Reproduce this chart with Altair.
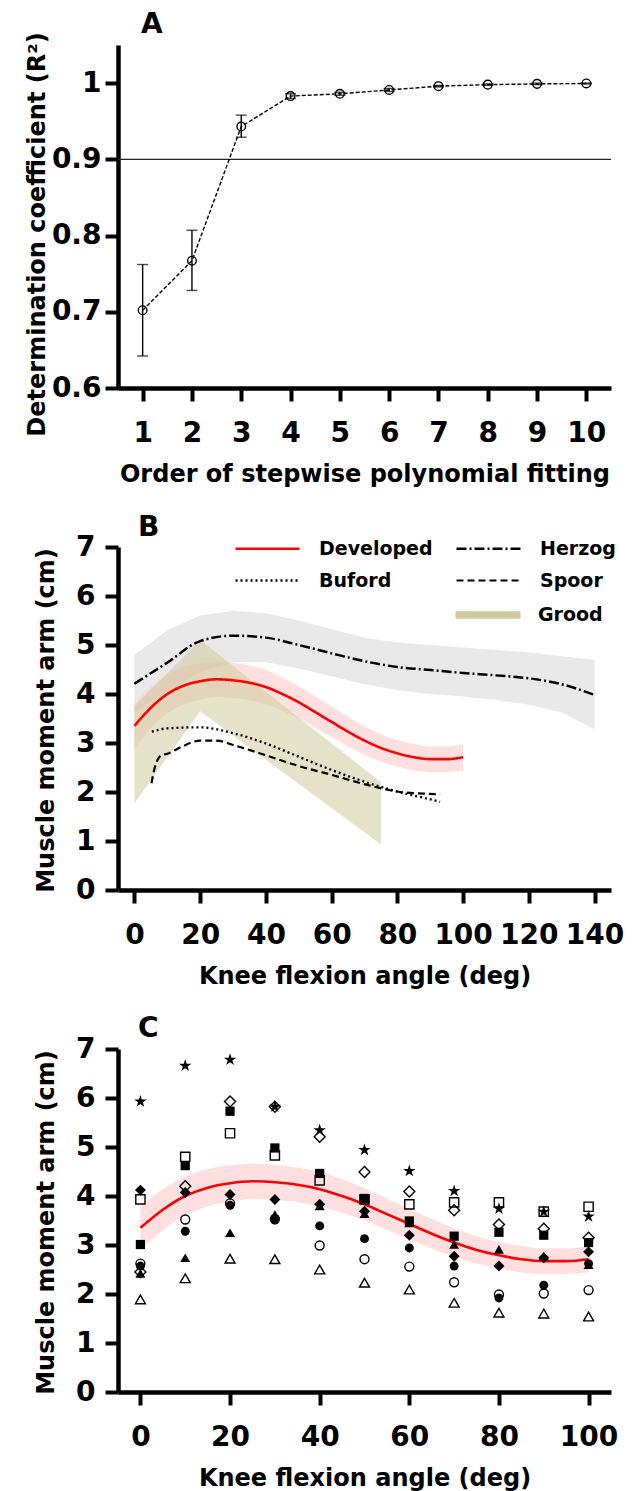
import altair as alt
import pandas as pd

FONT = "DejaVu Sans"

# ---------------- Panel A data ----------------
orders = [1, 2, 3, 4, 5, 6, 7, 8, 9, 10]
r2_mean = [0.702, 0.767, 0.943, 0.983, 0.986, 0.991, 0.996, 0.998, 0.999, 0.9995]
r2_low = [0.642, 0.728, 0.929, 0.980, 0.984, 0.989, 0.995, 0.997, 0.998, 0.999]
r2_high = [0.762, 0.807, 0.958, 0.986, 0.988, 0.993, 0.997, 0.999, 1.000, 1.000]
r2_threshold = [0.9]
a_yticks = [0.6, 0.7, 0.8, 0.9, 1.0]

# ---------------- Panel B data ----------------
dev_angle = [0, 5, 10, 15, 20, 25, 30, 35, 40, 45, 50, 55, 60, 65, 70, 75, 80, 85, 90, 95, 100]
dev_mid = [3.35, 3.72, 4.00, 4.17, 4.26, 4.30, 4.28, 4.23, 4.14, 4.00, 3.83, 3.63, 3.43, 3.23, 3.05, 2.90, 2.79, 2.71, 2.67, 2.67, 2.71]
dev_upper = [3.80, 4.14, 4.40, 4.55, 4.63, 4.66, 4.64, 4.58, 4.49, 4.34, 4.16, 3.95, 3.74, 3.53, 3.34, 3.18, 3.06, 2.98, 2.93, 2.93, 2.98]
dev_lower = [2.90, 3.30, 3.60, 3.79, 3.89, 3.94, 3.92, 3.88, 3.79, 3.66, 3.50, 3.31, 3.12, 2.93, 2.76, 2.62, 2.52, 2.44, 2.41, 2.41, 2.44]

herzog_angle = [0, 10, 20, 30, 40, 50, 60, 70, 80, 90, 100, 110, 120, 130, 140]
herzog_mid = [4.21, 4.64, 5.08, 5.19, 5.15, 5.00, 4.83, 4.67, 4.55, 4.49, 4.43, 4.38, 4.32, 4.20, 3.98]
herzog_upper = [4.80, 5.30, 5.60, 5.70, 5.65, 5.50, 5.32, 5.15, 5.05, 5.00, 4.95, 4.90, 4.85, 4.77, 4.70]
herzog_lower = [3.62, 4.05, 4.45, 4.65, 4.65, 4.52, 4.36, 4.20, 4.08, 4.00, 3.95, 3.88, 3.78, 3.62, 3.28]

buford_angle = [5.3, 10, 20, 30, 40, 50, 60, 70, 80, 90, 93]
buford_arm = [3.23, 3.30, 3.32, 3.20, 2.99, 2.72, 2.45, 2.21, 2.01, 1.85, 1.80]

spoor_angle = [5.2, 6, 7, 8.2, 10, 14.3, 20, 25, 30, 40, 50, 60, 70, 80, 90, 93]
spoor_arm = [2.18, 2.45, 2.65, 2.75, 2.78, 2.92, 3.05, 3.05, 2.96, 2.75, 2.53, 2.35, 2.16, 2.01, 1.96, 1.95]

grood_angle = [0, 20, 75]
grood_upper = [3.75, 5.10, 2.20]
grood_lower = [1.77, 3.65, 0.93]
grood_name = ["Grood"]
grood_color = ["#cdcb9b"]

series_order = ["Developed", "Herzog", "Buford", "Spoor"]
series_colors = ["#ff0000", "#000000", "#000000", "#000000"]
series_dash = [[1, 0], [10, 3, 2, 3], [2, 3], [7, 4]]
series_width = [2.6, 2.2, 2.2, 2.2]
b_xticks = [0, 20, 40, 60, 80, 100, 120, 140]
arm_ticks = [0, 1, 2, 3, 4, 5, 6, 7]

# ---------------- Panel C data ----------------
c_angle = [0, 10, 20, 30, 40, 50, 60, 70, 80, 90, 100]
subj_star = [5.93, 6.66, 6.78, 5.82, 5.34, 4.94, 4.51, 4.10, 3.74, 3.68, 3.58]
subj_open_diamond = [2.45, 4.20, 5.93, 5.82, 5.21, 4.49, 4.09, 3.71, 3.42, 3.33, 3.15]
subj_filled_square = [3.01, 4.62, 5.73, 4.98, 4.46, 3.95, 3.49, 3.18, 3.26, 3.20, 3.05]
subj_open_square = [3.93, 4.80, 5.28, 4.83, 4.32, 3.93, 3.83, 3.87, 3.87, 3.68, 3.78]
subj_filled_diamond = [4.12, 4.07, 4.03, 3.93, 3.83, 3.69, 3.20, 2.77, 2.57, 2.74, 2.86]
subj_filled_circle = [2.57, 3.28, 3.81, 3.51, 3.39, 3.13, 2.94, 2.57, 1.92, 2.18, 2.62]
subj_open_circle = [2.62, 3.52, 3.85, 3.53, 2.99, 2.71, 2.56, 2.24, 1.99, 2.01, 2.08]
subj_filled_triangle = [2.42, 2.74, 3.25, 3.62, 3.80, 3.64, 3.45, 3.01, 2.91, 2.77, 2.60]
subj_open_triangle = [1.89, 2.32, 2.72, 2.71, 2.50, 2.23, 2.09, 1.82, 1.62, 1.60, 1.54]
c_xticks = [0, 20, 40, 60, 80, 100]

STAR = "M0,-1L0.2245,-0.309L0.951,-0.309L0.363,0.118L0.588,0.809L0,0.382L-0.588,0.809L-0.363,0.118L-0.951,-0.309L-0.2245,-0.309Z"
LINE_SYM = "M-3.2,0H3.2"
SWATCH = "M-3.25,-0.375H3.25V0.375H-3.25Z"
# (values, shape, filled, size)
subject_marks = [
    (subj_star, STAR, True, 170),
    (subj_open_diamond, "diamond", False, 120),
    (subj_filled_square, "square", True, 85),
    (subj_open_square, "square", False, 85),
    (subj_filled_diamond, "diamond", True, 120),
    (subj_filled_circle, "circle", True, 80),
    (subj_open_circle, "circle", False, 80),
    (subj_filled_triangle, "triangle-up", True, 100),
    (subj_open_triangle, "triangle-up", False, 100),
]

W, H = 493, 343

# ---------------- Panel A ----------------
dfA = pd.DataFrame({"order": orders, "r2": r2_mean, "lo": r2_low, "hi": r2_high})
scAx = alt.Scale(domain=[0.5, 10.5], nice=False, zero=False)
scAy = alt.Scale(domain=[0.6, 1.05], nice=False, zero=False)
axAx = alt.Axis(values=orders, title="Order of stepwise polynomial fitting")
axAy = alt.Axis(values=a_yticks, title="Determination coefficient (R²)",
                labelExpr="datum.value == 1 ? '1' : format(datum.value, '.1f')",
                titleX=-69, titleY=189)


def ax_a(f):
    return alt.X(f, type="quantitative", scale=scAx, axis=axAx)


def ay_a(f):
    return alt.Y(f, type="quantitative", scale=scAy, axis=axAy)


baseA = alt.Chart(dfA)
a_rule = alt.Chart(pd.DataFrame({"t": r2_threshold})).mark_rule(color="#222222", strokeWidth=1.2).encode(y=ay_a("t"))
a_err = baseA.mark_rule(color="black", strokeWidth=1.4).encode(x=ax_a("order"), y=ay_a("lo"), y2="hi:Q")
a_caplo = baseA.mark_tick(color="black", orient="horizontal", size=11, thickness=1.4).encode(x=ax_a("order"), y=ay_a("lo"))
a_caphi = baseA.mark_tick(color="black", orient="horizontal", size=11, thickness=1.4).encode(x=ax_a("order"), y=ay_a("hi"))
a_line = baseA.mark_line(color="black", strokeWidth=1.4, strokeDash=[4, 2]).encode(x=ax_a("order"), y=ay_a("r2"))
a_pts = baseA.mark_point(shape="circle", size=75, color="black", strokeWidth=1.4, filled=False, opacity=1).encode(x=ax_a("order"), y=ay_a("r2"))

chartA = alt.layer(a_rule, a_line, a_err, a_caplo, a_caphi, a_pts).properties(
    width=W, height=H,
    title=alt.TitleParams(text="A", anchor="start", frame="group", dx=23, offset=-7),
)

# ---------------- Panel B ----------------
scBx = alt.Scale(domain=[-5, 145], nice=False, zero=False)
scArm = alt.Scale(domain=[0, 7], nice=False, zero=True)
axBx = alt.Axis(values=b_xticks, title="Knee flexion angle (deg)")
axArm = alt.Axis(values=arm_ticks, title="Muscle moment arm (cm)", labelPadding=10, titleX=-60, titleY=173)


def bx(f):
    return alt.X(f, type="quantitative", scale=scBx, axis=axBx)


def arm(f, ax=axArm):
    return alt.Y(f, type="quantitative", scale=scArm, axis=ax)


df_dev_band = pd.DataFrame({"angle": dev_angle, "lo": dev_lower, "hi": dev_upper})
df_her_band = pd.DataFrame({"angle": herzog_angle, "lo": herzog_lower, "hi": herzog_upper})
df_grood = pd.DataFrame({"angle": grood_angle, "lo": grood_lower, "hi": grood_upper,
                         "series": grood_name * len(grood_angle)})

lines = pd.concat([
    pd.DataFrame({"angle": herzog_angle, "arm": herzog_mid, "series": "Herzog"}),
    pd.DataFrame({"angle": buford_angle, "arm": buford_arm, "series": "Buford"}),
    pd.DataFrame({"angle": spoor_angle, "arm": spoor_arm, "series": "Spoor"}),
    pd.DataFrame({"angle": dev_angle, "arm": dev_mid, "series": "Developed"}),
], ignore_index=True)

legB = alt.Legend(title=None, orient="none", legendX=138, legendY=-10, columns=2, direction="horizontal",
                  symbolType=LINE_SYM, symbolSize=400, symbolOpacity=1, symbolFillColor="transparent",
                  labelFont=FONT, labelFontWeight="bold",
                  labelFontSize=19, labelColor="black", labelOffset=40, columnPadding=18,
                  rowPadding=10, padding=0)
legG = alt.Legend(title=None, orient="none", legendX=360, legendY=58,
                  symbolType=SWATCH, symbolSize=400, symbolOpacity=1, symbolStrokeWidth=0,
                  labelFont=FONT, labelFontWeight="bold",
                  labelFontSize=19, labelColor="black", labelOffset=40, padding=0)
colB = alt.Color("series:N", scale=alt.Scale(domain=series_order, range=series_colors), legend=legB)
dashB = alt.StrokeDash("series:N", scale=alt.Scale(domain=series_order, range=series_dash), legend=legB)
widthB = alt.StrokeWidth("series:N", scale=alt.Scale(domain=series_order, range=series_width), legend=legB)

b_grey = alt.Chart(df_her_band).mark_area(color="#e9e9e9", opacity=1).encode(x=bx("angle"), y=arm("lo"), y2="hi:Q")
b_pink = alt.Chart(df_dev_band).mark_area(color="#ffc9c9", opacity=0.6, interpolate="monotone").encode(x=bx("angle"), y=arm("lo"), y2="hi:Q")
b_grood = alt.Chart(df_grood).mark_area(opacity=0.55).encode(
    x=bx("angle"), y=arm("lo"), y2="hi:Q",
    fill=alt.Fill("series:N", scale=alt.Scale(domain=grood_name, range=grood_color), legend=legG))
b_lines = alt.Chart(lines).mark_line(interpolate="monotone", opacity=1).encode(
    x=bx("angle"), y=arm("arm"), color=colB, strokeDash=dashB, strokeWidth=widthB,
    order=alt.Order("angle:Q"))

chartB = alt.layer(b_grey, b_pink, b_grood, b_lines).properties(
    width=W, height=H,
    title=alt.TitleParams(text="B", anchor="start", frame="group", dx=20, offset=-9),
)

# ---------------- Panel C ----------------
scCx = alt.Scale(domain=[-5, 105], nice=False, zero=False)
axCx = alt.Axis(values=c_xticks, title="Knee flexion angle (deg)")


def cx(f):
    return alt.X(f, type="quantitative", scale=scCx, axis=axCx)


df_dev_line = pd.DataFrame({"angle": dev_angle, "arm": dev_mid})

c_layers = [
    alt.Chart(df_dev_band).mark_area(color="#ffc9c9", opacity=0.6, interpolate="monotone").encode(x=cx("angle"), y=arm("lo"), y2="hi:Q"),
    alt.Chart(df_dev_line).mark_line(color="#ff0000", strokeWidth=2.6, interpolate="monotone").encode(x=cx("angle"), y=arm("arm")),
]
for vals, shp, filled, sz in subject_marks:
    dfs = pd.DataFrame({"angle": c_angle, "arm": vals})
    if filled:
        mk = alt.Chart(dfs).mark_point(shape=shp, filled=True, color="black", size=sz, opacity=1)
    else:
        mk = alt.Chart(dfs).mark_point(shape=shp, filled=False, color="black", strokeWidth=1.4, size=sz, opacity=1)
    c_layers.append(mk.encode(x=cx("angle"), y=arm("arm")))

chartC = alt.layer(*c_layers).properties(
    width=W, height=H,
    title=alt.TitleParams(text="C", anchor="start", frame="group", dx=20, offset=-8),
)

chart = alt.vconcat(chartA, chartB, chartC, spacing=159, bounds="flush").resolve_legend(
    color="independent", strokeDash="independent", strokeWidth="independent", fill="independent"
).properties(
    padding={"left": 16, "top": 2, "right": 0, "bottom": 2}
).configure_axis(
    domainColor="black", domainWidth=4.5, tickColor="black", tickWidth=4, tickSize=13,
    labelFont=FONT, labelFontWeight="bold", labelFontSize=28, labelColor="black", labelPadding=4,
    titleFont=FONT, titleFontWeight="bold", titleFontSize=24, titleColor="black", grid=False,
).configure_axisX(labelPadding=18, titlePadding=15).configure_view(stroke=None).configure_title(
    font=FONT, fontWeight="bold", fontSize=28, color="black"
)

chart.save("out.html", embed_options={"renderer": "svg", "actions": False})
